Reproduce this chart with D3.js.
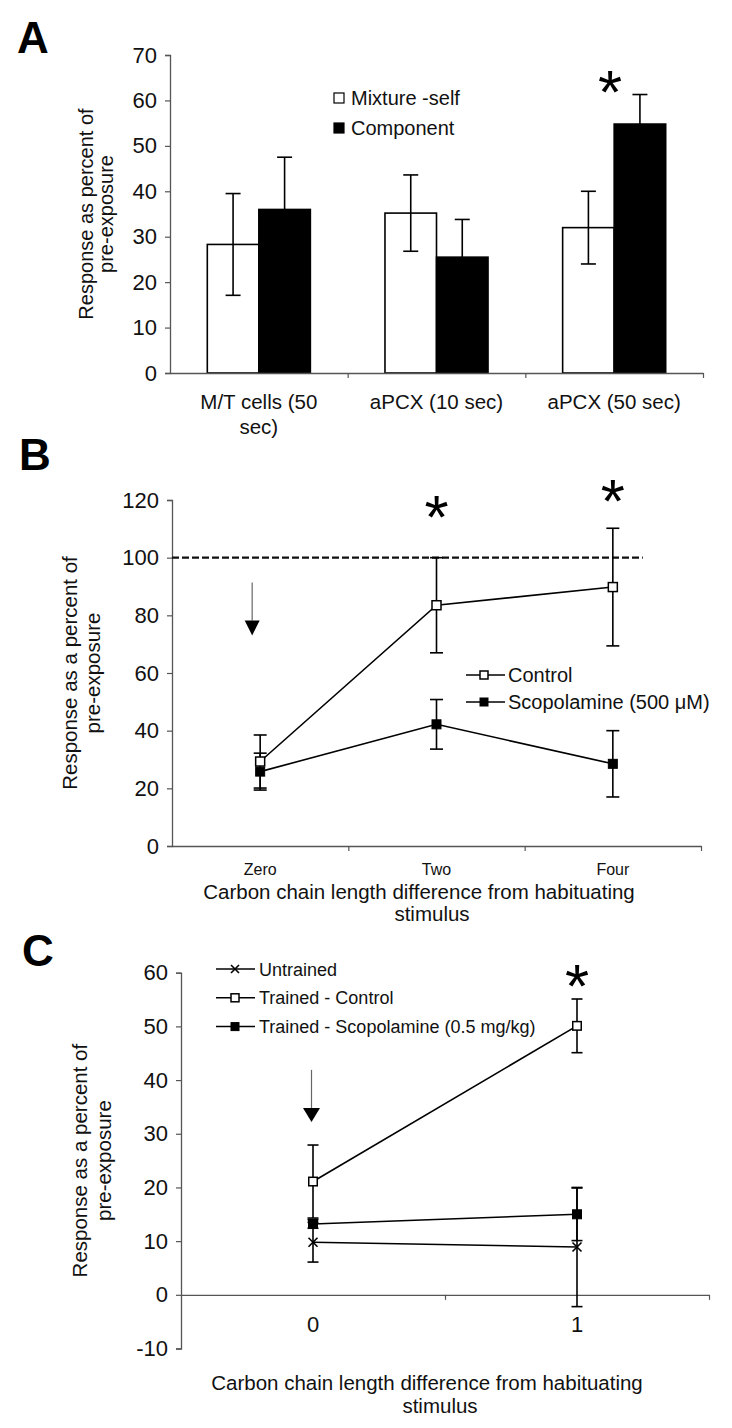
<!DOCTYPE html>
<html><head><meta charset="utf-8">
<script src="https://cdn.jsdelivr.net/npm/d3@7"></script>
<style>body{margin:0;background:#fff}svg{display:block}</style>
</head><body>
<svg id="chart" width="732" height="1428"></svg>
<script>
// ---------- Panel A data ----------
const catsA = ["M/T cells (50 sec)", "aPCX (10 sec)", "aPCX (50 sec)"];
const seriesA = ["Mixture -self", "Component"];
const mixtureSelf = [28.3, 35.2, 32.0];
const mixtureSelfErr = [11.2, 8.4, 8.0];
const component = [36.0, 25.5, 54.8];
const componentErr = [11.5, 8.3, 6.5];
const ticksA = [0, 10, 20, 30, 40, 50, 60, 70];
const starsA = [{cat: "aPCX (50 sec)", level: 65}];

// ---------- Panel B data ----------
const catsB = ["Zero", "Two", "Four"];
const seriesB = ["Control", "Scopolamine (500 \u03BCM)"];
const controlB = [29.3, 83.5, 89.8];
const controlBErr = [9.2, 16.5, 20.4];
const scopB = [25.8, 42.2, 28.5];
const scopBErr = [6.4, 8.6, 11.5];
const ticksB = [0, 20, 40, 60, 80, 100, 120];
const referenceB = 100;
const starsB = [{cat: "Two", level: 119}, {cat: "Four", level: 124.8}];
const arrowB = {cat: "Zero", from: 91.4, to: 73.0};

// ---------- Panel C data ----------
const catsC = ["0", "1"];
const seriesC = ["Untrained", "Trained - Control", "Trained - Scopolamine (0.5 mg/kg)"];
const untrainedC = [9.8, 8.9];
const untrainedCErr = [3.7, 11.1];
const controlC = [21.1, 50.1];
const controlCErr = [6.8, 5.0];
const scopC = [13.2, 15.0];
const scopCErr = [0.8, 4.9];
const ticksC = [-10, 0, 10, 20, 30, 40, 50, 60];
const starsC = [{cat: "1", level: 60.2}];
const arrowC = {cat: "0", from: 41.9, to: 32.2};

const xTitle = ["Carbon chain length difference from habituating", "stimulus"];

// ---------- helpers ----------
const svg = d3.select("#chart");
const FONT = "'Liberation Sans', Arial, Helvetica, sans-serif";
const AX = "#555";

function yAxis(y, ticks, x0) {
  const ax = svg.append("g").attr("transform", `translate(${x0},0)`)
    .call(d3.axisLeft(y).tickValues(ticks).tickSize(5).tickPadding(8).tickFormat(d => String(d)));
  ax.select(".domain").attr("stroke", AX).attr("stroke-width", 1.3);
  ax.selectAll(".tick line").attr("stroke", AX).attr("stroke-width", 1.2);
  ax.selectAll(".tick text").attr("font-family", FONT).attr("font-size", 22).attr("fill", "#111");
}
function xAxisBoundaries(x, yPos) {
  const n = x.domain().length;
  const bx = d3.scaleLinear().domain([0, n]).range(x.range());
  const ax = svg.append("g").attr("transform", `translate(0,${yPos})`)
    .call(d3.axisBottom(bx).tickValues(d3.range(1, n + 1)).tickSize(5).tickSizeOuter(0).tickFormat(""));
  ax.select(".domain").attr("stroke", AX).attr("stroke-width", 1.3);
  ax.selectAll(".tick line").attr("stroke", AX).attr("stroke-width", 1.2);
}
function yTitle(lines, x, yc, gap, fs) {
  const t = svg.append("text").attr("transform", `translate(${x},${yc}) rotate(-90)`)
    .attr("text-anchor", "middle").attr("font-family", FONT).attr("font-size", fs).attr("fill", "#111");
  lines.forEach((l, i) => t.append("tspan").attr("x", 0).attr("y", i * gap).text(l));
}
function panelLabel(txt, x, y) {
  svg.append("text").attr("x", x).attr("y", y).attr("font-family", FONT).attr("font-weight", "bold")
    .attr("font-size", 44).attr("fill", "#000").text(txt);
}
function errBars(pts, cap, width) {
  const g = svg.append("g").attr("stroke", "#000").attr("stroke-width", width || 1.6);
  pts.forEach(p => {
    g.append("line").attr("x1", p.x).attr("x2", p.x).attr("y1", p.y1).attr("y2", p.y2);
    g.append("line").attr("x1", p.x - cap / 2).attr("x2", p.x + cap / 2).attr("y1", p.y1).attr("y2", p.y1);
    g.append("line").attr("x1", p.x - cap / 2).attr("x2", p.x + cap / 2).attr("y1", p.y2).attr("y2", p.y2);
  });
}
function star(x, y) {
  const fs = 62;
  svg.append("text").attr("x", x).attr("y", y + 0.57 * fs).attr("text-anchor", "middle")
    .attr("font-family", FONT).attr("font-size", fs).attr("fill", "#000").text("*");
}
function arrow(x, yFrom, yTo, tw, th) {
  svg.append("line").attr("x1", x).attr("x2", x).attr("y1", yFrom).attr("y2", yTo - th)
    .attr("stroke", "#666").attr("stroke-width", 1.2);
  svg.append("path").attr("d", `M${x - tw / 2},${yTo - th}L${x + tw / 2},${yTo - th}L${x},${yTo}Z`).attr("fill", "#000");
}
function marker(g, type, x, y, s) {
  if (type === "open") {
    g.append("rect").attr("x", x - s / 2).attr("y", y - s / 2).attr("width", s).attr("height", s)
      .attr("fill", "#fff").attr("stroke", "#000").attr("stroke-width", 1.5);
  } else if (type === "filled") {
    g.append("rect").attr("x", x - s / 2).attr("y", y - s / 2).attr("width", s).attr("height", s)
      .attr("fill", "#000").attr("stroke", "#000").attr("stroke-width", 1);
  } else {
    const h = s / 2;
    g.append("path").attr("d", `M${x - h},${y - h}L${x + h},${y + h}M${x - h},${y + h}L${x + h},${y - h}`)
      .attr("stroke", "#000").attr("stroke-width", 1.6).attr("fill", "none");
  }
}

// ================= PANEL A =================
panelLabel("A", 17, 53);
const xA = d3.scaleBand().domain(catsA).range([170, 703]).paddingInner(0.42).paddingOuter(0.21);
const xSubA = d3.scaleBand().domain(seriesA).range([0, xA.bandwidth()]);
const yA = d3.scaleLinear().domain([0, 70]).range([373, 55]);
const valsA = [mixtureSelf, component], errsA = [mixtureSelfErr, componentErr];

seriesA.forEach((s, si) => {
  svg.append("g").selectAll("rect").data(catsA).join("rect")
    .attr("x", c => xA(c) + xSubA(s)).attr("width", xSubA.bandwidth())
    .attr("y", (c, ci) => yA(valsA[si][ci])).attr("height", (c, ci) => yA(0) - yA(valsA[si][ci]))
    .attr("fill", si === 0 ? "#fff" : "#000").attr("stroke", "#000").attr("stroke-width", 1.6);
});
seriesA.forEach((s, si) => errBars(catsA.map((c, ci) => ({
  x: xA(c) + xSubA(s) + xSubA.bandwidth() / 2,
  y1: yA(valsA[si][ci] + errsA[si][ci]), y2: yA(valsA[si][ci] - errsA[si][ci])})), 15));

yAxis(yA, ticksA, 170);
xAxisBoundaries(xA, 373);
// category labels (wrapped)
catsA.forEach(c => {
  const words = c.split(" ");
  const lines = [];
  let cur = "";
  const maxW = 150;
  const meas = svg.append("text").attr("font-family", FONT).attr("font-size", 20.5);
  words.forEach(w => {
    const test = cur ? cur + " " + w : w;
    meas.text(test);
    if (meas.node().getComputedTextLength() > maxW && cur) { lines.push(cur); cur = w; } else cur = test;
  });
  lines.push(cur);
  meas.remove();
  const t = svg.append("text").attr("text-anchor", "middle").attr("font-family", FONT)
    .attr("font-size", 20.5).attr("fill", "#111");
  lines.forEach((l, i) => t.append("tspan").attr("x", xA(c) + xA.bandwidth() / 2).attr("y", 409 + i * 25).text(l));
});
yTitle(["Response as percent of", "pre-exposure"], 93, (yA.range()[0] + yA.range()[1]) / 2, 20, 20);
// legend A
const legA = svg.append("g");
seriesA.forEach((s, i) => {
  const yy = 98 + i * 30;
  legA.append("rect").attr("x", 334).attr("y", yy - 5).attr("width", 10).attr("height", 10)
    .attr("fill", i === 0 ? "#fff" : "#000").attr("stroke", "#000").attr("stroke-width", 1.2);
  legA.append("text").attr("x", 351).attr("y", yy + 7).attr("font-family", FONT).attr("font-size", 20)
    .attr("fill", "#111").text(s);
});
starsA.forEach(st => star(xA(st.cat) + xA.bandwidth() / 2 - 4, yA(st.level)));

// ================= PANEL B =================
panelLabel("B", 19, 470);
const xB = d3.scaleBand().domain(catsB).range([172, 701]);
const yB = d3.scaleLinear().domain([0, 120]).range([846, 500]);
const cxB = c => xB(c) + xB.bandwidth() / 2;
yAxis(yB, ticksB, 172);
xAxisBoundaries(xB, 846);
svg.append("g").selectAll("text").data(catsB).join("text")
  .attr("x", cxB).attr("y", 875).attr("text-anchor", "middle").attr("font-family", FONT)
  .attr("font-size", 16).attr("fill", "#111").text(d => d);
// reference line at 100
svg.append("line").attr("x1", xB.range()[0]).attr("x2", xB("Four") + xB.bandwidth() * 0.67)
  .attr("y1", yB(referenceB)).attr("y2", yB(referenceB))
  .attr("stroke", "#111").attr("stroke-width", 2.2).attr("stroke-dasharray", "7,3");
const lineB = d3.line().x((d, i) => cxB(catsB[i])).y(d => yB(d));
[controlB, scopB].forEach(vals => svg.append("path").datum(vals).attr("d", lineB)
  .attr("fill", "none").attr("stroke", "#000").attr("stroke-width", 1.6));
errBars(catsB.map((c, i) => ({x: cxB(c), y1: yB(controlB[i] + controlBErr[i]), y2: yB(controlB[i] - controlBErr[i])})), 13);
errBars(catsB.map((c, i) => ({x: cxB(c), y1: yB(scopB[i] + scopBErr[i]), y2: yB(scopB[i] - scopBErr[i])})), 13);
const mB = svg.append("g");
catsB.forEach((c, i) => marker(mB, "open", cxB(c), yB(controlB[i]), 9));
catsB.forEach((c, i) => marker(mB, "filled", cxB(c), yB(scopB[i]), 9));
starsB.forEach(st => star(cxB(st.cat), yB(st.level)));
arrow(cxB(arrowB.cat) - 8, yB(arrowB.from), yB(arrowB.to), 15, 15);
yTitle(["Response as a percent of", "pre-exposure"], 77, (yB.range()[0] + yB.range()[1]) / 2, 23, 20.5);
svg.append("text").attr("x", 419).attr("y", 899).attr("text-anchor", "middle").attr("font-family", FONT)
  .attr("font-size", 20.5).attr("fill", "#111").text(xTitle[0]);
svg.append("text").attr("x", 432).attr("y", 921).attr("text-anchor", "middle").attr("font-family", FONT)
  .attr("font-size", 20.5).attr("fill", "#111").text(xTitle[1]);
// legend B
const legB = svg.append("g");
seriesB.forEach((s, i) => {
  const yy = 675 + i * 27;
  legB.append("line").attr("x1", 466).attr("x2", 505).attr("y1", yy).attr("y2", yy).attr("stroke", "#000").attr("stroke-width", 1.5);
  marker(legB, i === 0 ? "open" : "filled", 484, yy, 8);
  legB.append("text").attr("x", 508).attr("y", yy + 7).attr("font-family", FONT).attr("font-size", 20)
    .attr("fill", "#111").text(s);
});

// ================= PANEL C =================
panelLabel("C", 22, 966);
const xC = d3.scaleBand().domain(catsC).range([181, 709]);
const yC = d3.scaleLinear().domain([-10, 60]).range([1348.5, 972.7]);
const cxC = c => xC(c) + xC.bandwidth() / 2;
yAxis(yC, ticksC, 181);
xAxisBoundaries(xC, yC(0));
svg.append("g").selectAll("text").data(catsC).join("text")
  .attr("x", cxC).attr("y", 1332).attr("text-anchor", "middle").attr("font-family", FONT)
  .attr("font-size", 22).attr("fill", "#111").text(d => d);
const lineC = d3.line().x((d, i) => cxC(catsC[i])).y(d => yC(d));
[untrainedC, controlC, scopC].forEach(vals => svg.append("path").datum(vals).attr("d", lineC)
  .attr("fill", "none").attr("stroke", "#000").attr("stroke-width", 1.6));
errBars(catsC.map((c, i) => ({x: cxC(c), y1: yC(untrainedC[i] + untrainedCErr[i]), y2: yC(untrainedC[i] - untrainedCErr[i])})), 11);
errBars(catsC.map((c, i) => ({x: cxC(c), y1: yC(controlC[i] + controlCErr[i]), y2: yC(controlC[i] - controlCErr[i])})), 11);
errBars(catsC.map((c, i) => ({x: cxC(c), y1: yC(scopC[i] + scopCErr[i]), y2: yC(scopC[i] - scopCErr[i])})), 11);
const mC = svg.append("g");
catsC.forEach((c, i) => marker(mC, "x", cxC(c), yC(untrainedC[i]), 9));
catsC.forEach((c, i) => marker(mC, "open", cxC(c), yC(controlC[i]), 8.5));
catsC.forEach((c, i) => marker(mC, "filled", cxC(c), yC(scopC[i]), 9));
starsC.forEach(st => star(cxC(st.cat), yC(st.level)));
arrow(cxC(arrowC.cat) - 1.5, yC(arrowC.from), yC(arrowC.to), 17, 14);
yTitle(["Response as a percent of", "pre-exposure"], 87, (yC.range()[0] + yC.range()[1]) / 2, 24, 20.5);
svg.append("text").attr("x", 427).attr("y", 1390).attr("text-anchor", "middle").attr("font-family", FONT)
  .attr("font-size", 20.5).attr("fill", "#111").text(xTitle[0]);
svg.append("text").attr("x", 440).attr("y", 1413).attr("text-anchor", "middle").attr("font-family", FONT)
  .attr("font-size", 20.5).attr("fill", "#111").text(xTitle[1]);
// legend C
const legC = svg.append("g");
seriesC.forEach((s, i) => {
  const yy = 969 + i * 28.8;
  legC.append("line").attr("x1", 216).attr("x2", 255).attr("y1", yy).attr("y2", yy).attr("stroke", "#000").attr("stroke-width", 1.5);
  marker(legC, ["x", "open", "filled"][i], 235, yy, 8);
  legC.append("text").attr("x", 259).attr("y", yy + 6.5).attr("font-family", FONT).attr("font-size", 18)
    .attr("fill", "#111").text(s);
});
</script>
</body></html>
